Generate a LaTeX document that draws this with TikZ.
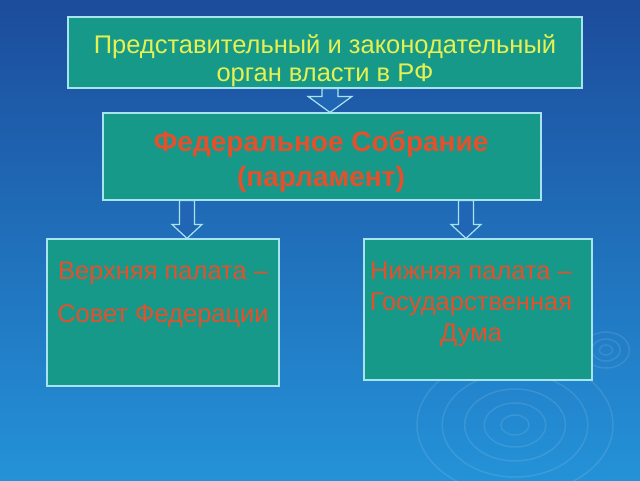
\documentclass[tikz,border=0pt]{standalone}
\usepackage{fontspec}
\setmainfont{Liberation Sans}
\usetikzlibrary{calc}
\definecolor{bgtop}{HTML}{1C4C9C}
\definecolor{bgbot}{HTML}{2492D8}
\definecolor{boxfill}{HTML}{17998A}
\definecolor{boxline}{HTML}{A8E4F0}
\definecolor{titleyel}{HTML}{E6F050}
\definecolor{redtxt}{HTML}{E4502C}
\definecolor{arrowfill}{HTML}{2166B4}
% block arrow pointing down: from, to, shaft half width, head half width, head length
\newcommand{\blockdown}[5]{%
\draw[arrow block] let \p1=(#1), \p2=(#2) in
  (\x1-#3,\y1) -- (\x1+#3,\y1) -- (\x1+#3,\y2+#5) -- (\x1+#4,\y2+#5)
  -- (\x1,\y2) -- (\x1-#4,\y2+#5) -- (\x1-#3,\y2+#5) -- cycle;}
\begin{document}
\begin{tikzpicture}[x=1pt, y=-1pt,
  main box/.style={draw=boxline, line width=1.2pt, fill=boxfill, inner sep=0pt},
  arrow block/.style={draw=boxline, line width=1.2pt, fill=arrowfill, line join=miter},
  ripple/.style={draw=white, opacity=0.1, line width=1.5pt}]
% background
\shade[top color=bgtop, bottom color=bgbot] (0,0) rectangle (640,480);
\useasboundingbox (0,0) rectangle (640,480);
\begin{scope}
\clip (0,0) rectangle (640,480);
\foreach \r in {10,22,36,52,70} \draw[ripple] (515,425) ellipse ({\r*1.4} and \r);
\foreach \r in {5,11,18} \draw[ripple] (606,350) ellipse ({\r*1.3} and \r);
\end{scope}
% boxes
\node[main box, minimum width=514pt, minimum height=71pt] (top) at (325,52.5) {};
\node[main box, minimum width=438pt, minimum height=87pt] (fed) at (322,156.5) {};
\node[main box, minimum width=232pt, minimum height=147pt] (upper) at (163,312.5) {};
\node[main box, minimum width=228pt, minimum height=141pt] (lower) at (478,309.5) {};
% texts
\node[text=titleyel, font=\fontsize{25.5}{28}\selectfont, align=center] (toptext) at (325,61) {Представительный и законодательный\\орган власти в РФ};
\node[text=redtxt, font=\fontsize{28}{35}\selectfont\bfseries, align=center] (fedtext) at (321,162) {Федеральное Собрание\\(парламент)};
\node[text=redtxt, font=\fontsize{25.5}{31}\selectfont, align=center] (uppertext) at (163,295) {Верхняя палата –\\[12pt]Совет Федерации};
\node[text=redtxt, font=\fontsize{25.5}{31}\selectfont, align=center] (lowertext) at (471,304) {Нижняя палата –\\Государственная\\Дума};
% arrows
\blockdown{$(top.south)+(5,0)$}{fed.north}{8pt}{22pt}{16pt}
\blockdown{$(fed.south)+(-135,0)$}{upper.north}{7.5pt}{15pt}{14pt}
\blockdown{$(fed.south)+(144,0)$}{lower.north}{7.5pt}{15pt}{14pt}
\end{tikzpicture}
\end{document}
